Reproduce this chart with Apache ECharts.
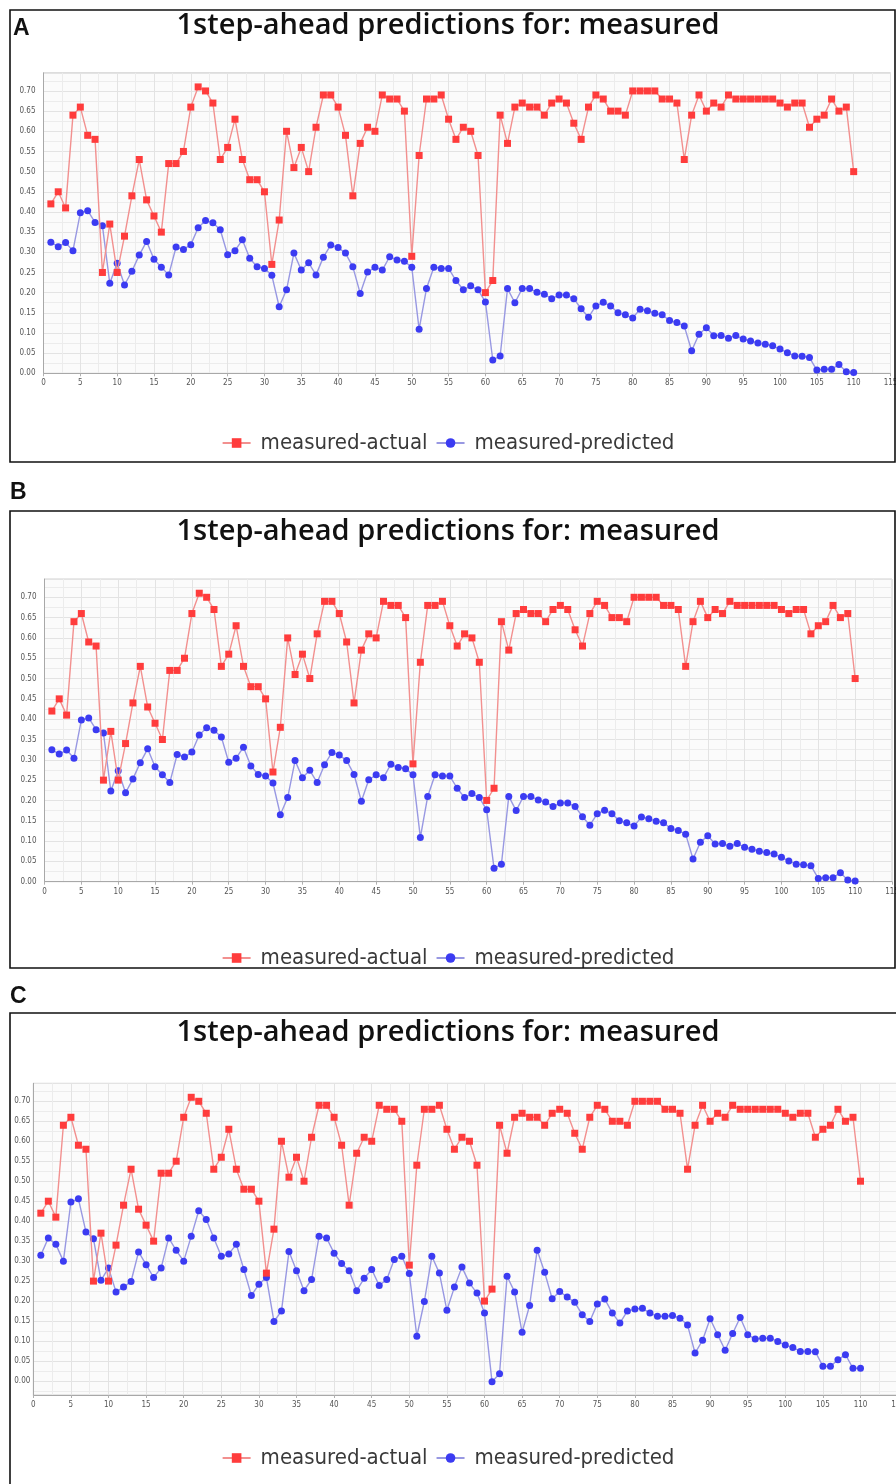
<!DOCTYPE html>
<html>
<head>
<meta charset="utf-8">
<script src="https://cdn.jsdelivr.net/npm/echarts@6/dist/echarts.min.js"></script>
<style>
  html, body { margin: 0; padding: 0; background: #ffffff; }
  #chart { width: 896px; height: 1484px; }
</style>
</head>
<body>
<div id="chart"></div>
<script>
// Time steps (1..110)
const steps = [
  1,2,3,4,5,6,7,8,9,10,11,12,13,14,15,16,17,18,19,20,
  21,22,23,24,25,26,27,28,29,30,31,32,33,34,35,36,37,38,39,40,
  41,42,43,44,45,46,47,48,49,50,51,52,53,54,55,56,57,58,59,60,
  61,62,63,64,65,66,67,68,69,70,71,72,73,74,75,76,77,78,79,80,
  81,82,83,84,85,86,87,88,89,90,91,92,93,94,95,96,97,98,99,100,
  101,102,103,104,105,106,107,108,109,110
];

// Measured values (same in all three panels)
const measuredActual = [
  0.42,0.45,0.41,0.64,0.66,0.59,0.58,0.25,0.37,0.25,
  0.34,0.44,0.53,0.43,0.39,0.35,0.52,0.52,0.55,0.66,
  0.71,0.70,0.67,0.53,0.56,0.63,0.53,0.48,0.48,0.45,
  0.27,0.38,0.60,0.51,0.56,0.50,0.61,0.69,0.69,0.66,
  0.59,0.44,0.57,0.61,0.60,0.69,0.68,0.68,0.65,0.29,
  0.54,0.68,0.68,0.69,0.63,0.58,0.61,0.60,0.54,0.20,
  0.23,0.64,0.57,0.66,0.67,0.66,0.66,0.64,0.67,0.68,
  0.67,0.62,0.58,0.66,0.69,0.68,0.65,0.65,0.64,0.70,
  0.70,0.70,0.70,0.68,0.68,0.67,0.53,0.64,0.69,0.65,
  0.67,0.66,0.69,0.68,0.68,0.68,0.68,0.68,0.68,0.67,
  0.66,0.67,0.67,0.61,0.63,0.64,0.68,0.65,0.66,0.50
];

// Predictions, panels A and B
const predictedAB = [
  0.325,0.314,0.324,0.304,0.398,0.403,0.374,0.366,0.223,0.273,
  0.219,0.253,0.293,0.327,0.283,0.263,0.244,0.313,0.307,0.319,
  0.361,0.379,0.373,0.356,0.294,0.304,0.331,0.285,0.264,0.260,
  0.243,0.165,0.207,0.298,0.256,0.274,0.244,0.288,0.318,0.312,
  0.298,0.264,0.198,0.251,0.263,0.256,0.289,0.281,0.278,0.263,
  0.109,0.210,0.263,0.260,0.260,0.230,0.207,0.217,0.207,0.177,
  0.033,0.043,0.210,0.175,0.210,0.210,0.201,0.196,0.185,0.194,
  0.194,0.185,0.160,0.139,0.167,0.176,0.167,0.150,0.145,0.137,
  0.159,0.155,0.149,0.145,0.131,0.126,0.117,0.056,0.097,0.113,
  0.093,0.094,0.087,0.094,0.085,0.080,0.075,0.072,0.068,0.060,
  0.051,0.043,0.042,0.039,0.008,0.010,0.010,0.022,0.004,0.002
];

// Predictions, panel C
const predictedC = [
  0.315,0.358,0.342,0.300,0.448,0.456,0.373,0.356,0.252,0.283,
  0.223,0.235,0.249,0.323,0.291,0.259,0.283,0.358,0.327,0.300,
  0.362,0.426,0.404,0.358,0.312,0.318,0.342,0.279,0.214,0.242,
  0.259,0.149,0.175,0.324,0.276,0.226,0.254,0.362,0.358,0.320,
  0.294,0.276,0.226,0.257,0.279,0.239,0.254,0.304,0.312,0.269,
  0.112,0.199,0.312,0.270,0.177,0.235,0.285,0.245,0.220,0.170,
  -0.002,0.018,0.262,0.223,0.122,0.189,0.327,0.272,0.206,0.224,
  0.210,0.197,0.166,0.149,0.193,0.205,0.170,0.145,0.175,0.180,
  0.182,0.170,0.162,0.162,0.164,0.157,0.140,0.070,0.102,0.156,
  0.116,0.077,0.119,0.159,0.116,0.105,0.107,0.107,0.099,0.090,
  0.084,0.074,0.074,0.073,0.037,0.037,0.053,0.066,0.032,0.032
];

const titleText = '1step-ahead predictions for: measured';
const seriesNames = ['measured-actual', 'measured-predicted'];
const panelLetters = ['A', 'B', 'C'];

const RED = '#ff3c3c', RED_LINE = '#f2908f';
const BLUE = '#3b3bf2', BLUE_LINE = '#9898e2';

const chart = echarts.init(document.getElementById('chart'), null, { renderer: 'canvas' });

// per-panel layout
const panels = [
  { grid: { left: 43.5, top: 72.8, width: 847, height: 300.5 }, yMin: 0, yMax: 0.745,
    labelMargin: 8, titleTop: 6, legendTop: 427, predicted: predictedAB },
  { grid: { left: 44.5, top: 579, width: 847.5, height: 302.7 }, yMin: 0, yMax: 0.745,
    labelMargin: 8, titleTop: 512, legendTop: 942, predicted: predictedAB },
  { grid: { left: 33.3, top: 1083.3, width: 864.8, height: 311.7 }, yMin: -0.035, yMax: 0.745,
    labelMargin: 3, titleTop: 1013, legendTop: 1442, predicted: predictedC }
];

const grids = [], xAxes = [], yAxes = [], series = [], titles = [], legends = [];
const tickFont = '"DejaVu Sans Condensed", "Liberation Sans Narrow", sans-serif';

panels.forEach((p, i) => {
  grids.push(Object.assign({
    show: true, backgroundColor: '#fbfbfb', borderColor: '#d0d0d0', borderWidth: 1,
    containLabel: false, outerBoundsMode: 'none'
  }, p.grid));

  xAxes.push({
    type: 'value', gridIndex: i, min: 0, max: 115, interval: 5,
    axisLine: { show: true, onZero: false, lineStyle: { color: '#a8a8a8', width: 1 } },
    axisTick: { show: true, length: 3, lineStyle: { color: '#b0b0b0' } },
    axisLabel: { color: '#555', fontSize: 8, fontFamily: tickFont, margin: 6, hideOverlap: false },
    splitLine: { show: true, lineStyle: { color: '#e3e3e3', width: 1 } },
    minorTick: { show: false, splitNumber: 2 },
    minorSplitLine: { show: true, lineStyle: { color: '#ececec', width: 1 } }
  });

  const y = {
    type: 'value', gridIndex: i, min: p.yMin, max: p.yMax,
    axisLine: { show: true, onZero: false, lineStyle: { color: '#a8a8a8', width: 1 } },
    axisTick: { show: false },
    axisLabel: {
      color: '#555', fontSize: 8, margin: p.labelMargin, fontFamily: tickFont,
      showMinLabel: p.yMin === 0, showMaxLabel: false,
      formatter: v => v.toFixed(2)
    },
    splitLine: { show: true, lineStyle: { color: '#e3e3e3', width: 1 } },
    minorTick: { show: false, splitNumber: 2 },
    minorSplitLine: { show: true, lineStyle: { color: '#ececec', width: 1 } }
  };
  if (p.yMin === 0) { y.interval = 0.05; } else { y.splitNumber = 16; }
  yAxes.push(y);

  series.push({
    name: seriesNames[0], type: 'line', xAxisIndex: i, yAxisIndex: i,
    data: steps.map((s, k) => [s, measuredActual[k]]),
    symbol: 'rect', symbolSize: 7,
    itemStyle: { color: RED },
    lineStyle: { color: RED_LINE, width: 1.4 },
    emphasis: { disabled: true }, animation: false, z: 3
  });
  series.push({
    name: seriesNames[1], type: 'line', xAxisIndex: i, yAxisIndex: i,
    data: steps.map((s, k) => [s, p.predicted[k]]),
    symbol: 'circle', symbolSize: 7,
    itemStyle: { color: BLUE },
    lineStyle: { color: BLUE_LINE, width: 1.4 },
    emphasis: { disabled: true }, animation: false, z: 2
  });

  titles.push({
    text: titleText, left: 'center', top: p.titleTop,
    textStyle: {
      fontFamily: '"Open Sans", Lato, sans-serif', fontSize: 29,
      fontWeight: 600, color: '#111'
    }
  });

  legends.push({
    data: seriesNames.slice(), top: p.legendTop, left: 'center',
    itemWidth: 28, itemHeight: 12, itemGap: 8,
    selectedMode: false,
    textStyle: { fontFamily: '"Liberation Sans Narrow", "DejaVu Sans Condensed", sans-serif',
      fontSize: 22, color: '#3a3a3a', padding: [0, 0, 0, 5] }
  });
});

// panel frames and letters
const frames = [
  { x: 10, y: 10, w: 885, h: 452 },
  { x: 10, y: 511, w: 885, h: 457 },
  { x: 10, y: 1013, w: 895, h: 480 }
];
const letterPos = [{ x: 13, y: 17 }, { x: 10, y: 481 }, { x: 10, y: 985 }];

const graphics = [];
frames.forEach(f => {
  graphics.push({
    type: 'rect', shape: { x: f.x, y: f.y, width: f.w, height: f.h },
    style: { fill: null, stroke: '#111', lineWidth: 1.6 }, silent: true, z: 10
  });
});
panelLetters.forEach((t, i) => {
  graphics.push({
    type: 'text', x: letterPos[i].x, y: letterPos[i].y,
    style: { text: t, font: 'bold 23px "Liberation Sans", Arial, sans-serif', fill: '#111' },
    silent: true, z: 10
  });
});

chart.setOption({
  animation: false,
  backgroundColor: '#ffffff',
  title: titles,
  legend: legends,
  grid: grids,
  xAxis: xAxes,
  yAxis: yAxes,
  series: series,
  graphic: graphics
});
</script>
</body>
</html>
